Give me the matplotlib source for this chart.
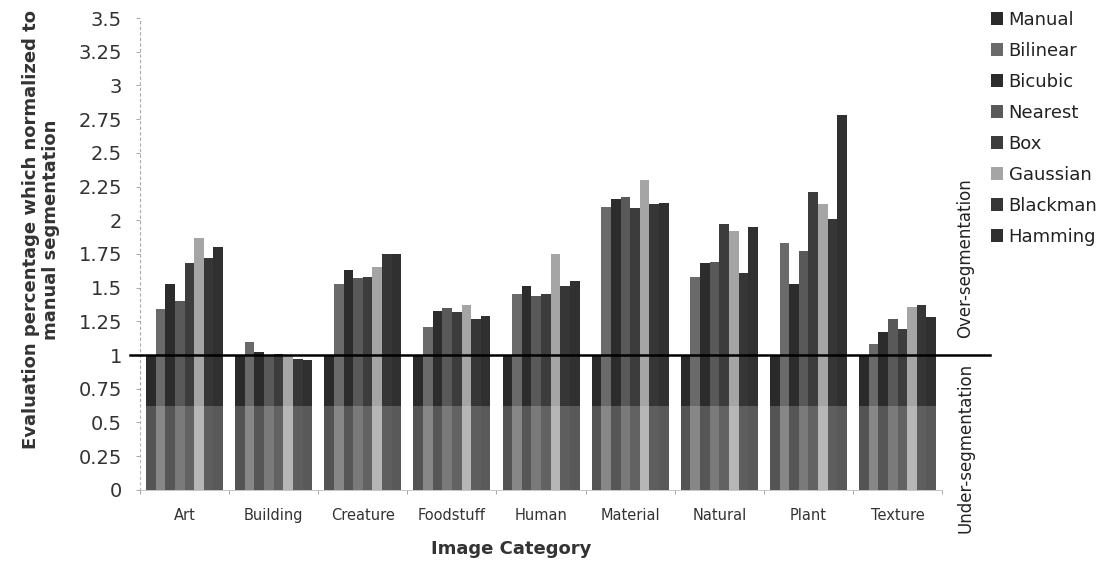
#!/usr/bin/env python3

import numpy as np
import matplotlib
matplotlib.use("Agg")
import matplotlib.pyplot as plt
from matplotlib.patches import Patch

categories = ["Art", "Building", "Creature", "Foodstuff", "Human",
              "Material", "Natural", "Plant", "Texture"]
methods = ["Manual", "Bilinear", "Bicubic", "Nearest", "Box",
           "Gaussian", "Blackman", "Hamming"]

manual   = [1.00, 1.00, 1.00, 1.00, 1.00, 1.00, 1.00, 1.00, 1.00]
bilinear = [1.34, 1.10, 1.53, 1.21, 1.45, 2.10, 1.58, 1.83, 1.08]
bicubic  = [1.53, 1.02, 1.63, 1.33, 1.51, 2.16, 1.68, 1.53, 1.17]
nearest  = [1.40, 1.00, 1.57, 1.35, 1.44, 2.17, 1.69, 1.77, 1.27]
box      = [1.68, 1.01, 1.58, 1.32, 1.45, 2.09, 1.97, 2.21, 1.19]
gaussian = [1.87, 0.99, 1.65, 1.37, 1.75, 2.30, 1.92, 2.12, 1.36]
blackman = [1.72, 0.97, 1.75, 1.27, 1.51, 2.12, 1.61, 2.01, 1.37]
hamming  = [1.80, 0.96, 1.75, 1.29, 1.55, 2.13, 1.95, 2.78, 1.28]

series = [manual, bilinear, bicubic, nearest, box, gaussian, blackman, hamming]
colors = ["#2a2a2a", "#6a6a6a", "#2c2c2c", "#595959",
          "#3c3c3c", "#a5a5a5", "#363636", "#303030"]

yticks = [0, 0.25, 0.5, 0.75, 1, 1.25, 1.5, 1.75, 2, 2.25, 2.5, 2.75, 3, 3.25, 3.5]
ytick_labels = ["0", "0.25", "0.5", "0.75", "1", "1.25", "1.5", "1.75",
                "2", "2.25", "2.5", "2.75", "3", "3.25", "3.5"]

plt.rcParams["font.family"] = ["DejaVu Sans"]

fig = plt.figure(figsize=(11.07, 5.65), dpi=100)
ax = fig.add_axes([0.1265, 0.133, 0.7245, 0.835])

x = np.arange(len(categories))
width = 0.108
offsets = (np.arange(len(methods)) - (len(methods) - 1) / 2) * width
for vals, col, off, name in zip(series, colors, offsets, methods):
    ax.bar(x + off, vals, width=width, color=col, edgecolor="none",
           label=name, zorder=2)

# lighter band at the bottom of the bars (as in the scan)
ax.axhspan(0, 0.62, color="white", alpha=0.2, zorder=3, linewidth=0)

# reference line at 1, extending beyond the axes
ax.axhline(1, xmin=-0.012, xmax=1.06, color="black", linewidth=1.8,
           clip_on=False, zorder=4)

ax.set_xlim(-0.5, len(categories) - 0.5)
ax.set_ylim(0, 3.5)
ax.set_yticks(yticks)
ax.set_yticklabels(ytick_labels, fontsize=14, color="#333333")
ax.set_xticks(x)
ax.set_xticklabels(categories, fontsize=10.5, color="#333333")
ax.tick_params(axis="x", length=0, pad=13)
ax.tick_params(axis="y", length=3, width=0.6, color="#999999", pad=10)
ax.set_xticks(np.arange(len(categories) + 1) - 0.5, minor=True)
ax.tick_params(axis="x", which="minor", length=3, width=0.6, color="#999999")

for side in ["top", "right"]:
    ax.spines[side].set_visible(False)
ax.spines["left"].set_color("#aaaaaa")
ax.spines["left"].set_linestyle((0, (2, 3)))
ax.spines["left"].set_linewidth(0.8)
ax.spines["bottom"].set_color("#bbbbbb")
ax.spines["bottom"].set_linewidth(0.6)

fig.text(0.037, 0.593, "Evaluation percentage which normalized to\nmanual segmentation",
         rotation=90, ha="center", va="center", fontsize=13,
         fontweight="bold", color="#333333", linespacing=1.2)
fig.text(0.462, 0.028, "Image Category", ha="center", va="center",
         fontsize=13, fontweight="bold", color="#333333")

fig.text(0.872, 0.543, "Over-segmentation", rotation=90, ha="center",
         va="center", fontsize=12, color="#222222")
fig.text(0.872, 0.208, "Under-segmentation", rotation=90, ha="center",
         va="center", fontsize=12, color="#222222")

handles = [Patch(facecolor=c, edgecolor="none", label=m)
           for c, m in zip(colors, methods)]
fig.legend(handles=handles, loc="upper left", bbox_to_anchor=(0.885, 1.0),
           frameon=False, fontsize=13, handlelength=0.7, handleheight=0.7,
           handletextpad=0.3, labelspacing=0.72, borderaxespad=0.2,
           labelcolor="#222222")

fig.savefig("out.png", dpi=100)
